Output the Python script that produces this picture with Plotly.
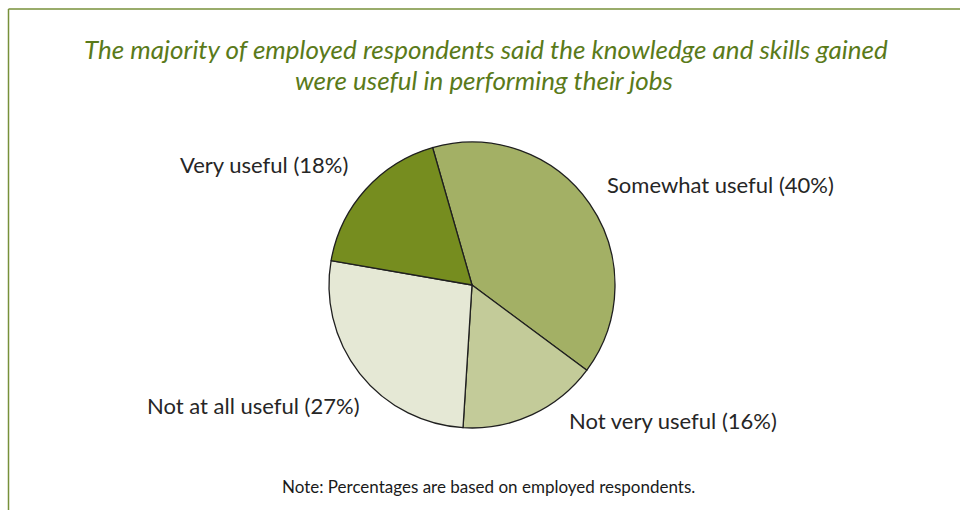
import plotly.graph_objects as go

# Survey responses (share of employed respondents, %)
categories = ["Somewhat useful", "Not very useful", "Not at all useful", "Very useful"]
shares = [40, 16, 27, 18]
slice_colors = ["#A3B065", "#C3CB99", "#E5E8D5", "#768D1F"]

title_lines = [
    "The majority of employed respondents said the knowledge and skills gained",
    "were useful in performing their jobs",
]
note_text = "Note: Percentages are based on employed respondents."

# Label anchor positions in pixels (x from left, y from top) for each category
label_px = {
    "Somewhat useful": (720, 184),
    "Not very useful": (673, 420),
    "Not at all useful": (253, 405),
    "Very useful": (264, 165),
}

W, H = 960, 510
cx, cy, r = 472, 285, 143


def px_to_paper(x, y):
    return x / W, 1 - y / H


fig = go.Figure(
    go.Pie(
        labels=categories,
        values=shares,
        sort=False,
        direction="clockwise",
        rotation=-16,
        marker=dict(colors=slice_colors, line=dict(color="#1F1F1F", width=1.3)),
        textinfo="none",
        hoverinfo="label+percent",
        showlegend=False,
        domain=dict(
            x=[(cx - r) / W, (cx + r) / W],
            y=[1 - (cy + r) / H, 1 - (cy - r) / H],
        ),
    )
)

annotations = []
for cat, val in zip(categories, shares):
    x, y = px_to_paper(*label_px[cat])
    annotations.append(
        dict(
            x=x, y=y, xref="paper", yref="paper",
            text=f"{cat} ({val}%)", showarrow=False,
            xanchor="center", yanchor="middle",
            font=dict(family="Lato", size=22, color="#262626"),
        )
    )

for line, (tx, ty) in zip(title_lines, [(486, 49), (484, 80)]):
    x, y = px_to_paper(tx, ty)
    annotations.append(
        dict(
            x=x, y=y, xref="paper", yref="paper",
            text=f"<i>{line}</i>", showarrow=False,
            xanchor="center", yanchor="middle",
            font=dict(family="Lato", size=26, color="#5A7A1A"),
        )
    )

x, y = px_to_paper(488, 486)
annotations.append(
    dict(
        x=x, y=y, xref="paper", yref="paper",
        text=note_text, showarrow=False,
        xanchor="center", yanchor="middle",
        font=dict(family="Lato", size=17, color="#1A1A1A"),
    )
)

fig.update_layout(
    width=W, height=H,
    margin=dict(l=0, r=0, t=0, b=0),
    paper_bgcolor="white",
    plot_bgcolor="white",
    annotations=annotations,
    shapes=[
        dict(type="line", xref="paper", yref="paper",
             x0=8.5 / W, x1=1.01, y0=1 - 9 / H, y1=1 - 9 / H,
             line=dict(color="#77903A", width=1.5)),
        dict(type="line", xref="paper", yref="paper",
             x0=8.5 / W, x1=8.5 / W, y0=1 - 9 / H, y1=-0.01,
             line=dict(color="#77903A", width=1.5)),
    ],
)

fig.write_html("out.html")
